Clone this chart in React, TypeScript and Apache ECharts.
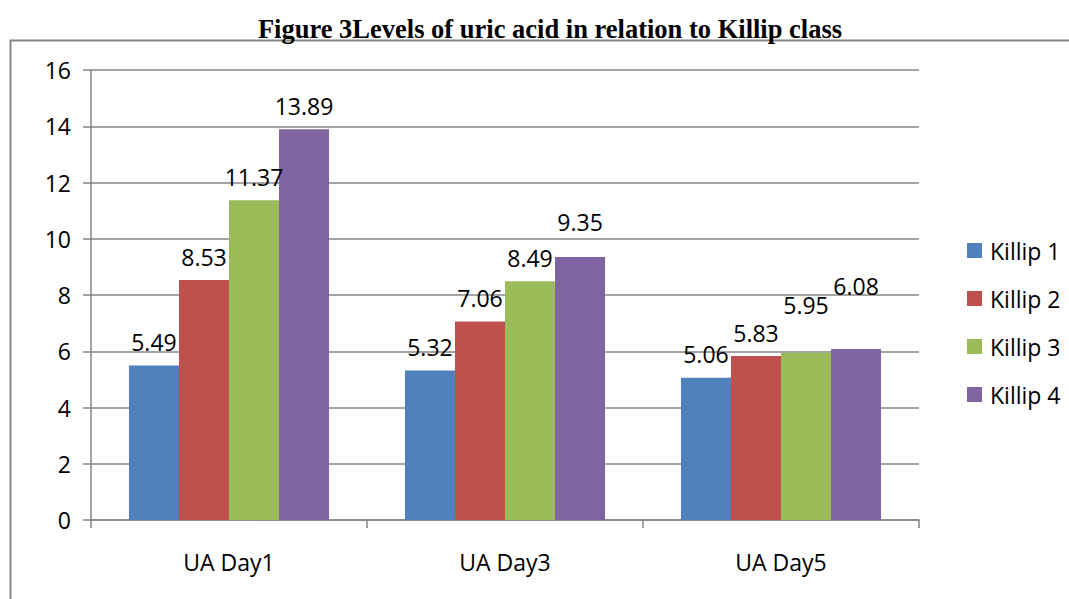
import React, { useEffect, useRef } from "react";
import * as echarts from "echarts";

const categories = ["UA Day1", "UA Day3", "UA Day5"];
const seriesNames = ["Killip 1", "Killip 2", "Killip 3", "Killip 4"];
const killip1 = [5.49, 5.32, 5.06];
const killip2 = [8.53, 7.06, 5.83];
const killip3 = [11.37, 8.49, 5.95];
const killip4 = [13.89, 9.35, 6.08];
const yTicks = { min: 0, max: 16, interval: 2 };
const titleText = "Figure 3Levels of uric acid in relation to Killip class";

const colors = ["#4F81BD", "#C0504D", "#9BBB59", "#8064A2"];
// extra vertical label offsets (px) to mimic the original label placement
const labelShift = [
  [0, 0, 0],
  [0, 0, 0],
  [0, 0, -24],
  [0, -12, -40],
];

export default function App() {
  const ref = useRef<HTMLDivElement>(null);
  useEffect(() => {
    if (!ref.current) return;
    const chart = echarts.init(ref.current, null, { renderer: "svg" });
    const all = [killip1, killip2, killip3, killip4];
    const font = "'Open Sans', sans-serif";
    chart.setOption({
      animation: false,
      backgroundColor: "#ffffff",
      title: {
        text: titleText,
        left: 545,
        textAlign: "center",
        top: 10,
        textStyle: {
          fontFamily: "'Liberation Serif', 'Times New Roman', serif",
          fontWeight: "bold",
          fontSize: 26.5,
          color: "#000",
        },
      },
      graphic: [
        {
          type: "polyline",
          shape: { points: [[10.5, 600], [10.5, 40.5], [1070, 40.5]] },
          style: { stroke: "#868686", lineWidth: 2, fill: "none" },
          silent: true,
        },
      ],
      legend: {
        orient: "vertical",
        left: 962,
        top: 234,
        itemWidth: 15,
        itemHeight: 15,
        itemGap: 25,
        icon: "rect",
        data: seriesNames,
        textStyle: { fontFamily: font, fontSize: 23, color: "#000", padding: [0, 0, 0, 3] },
      },
      grid: { left: 91, right: 150, top: 70, bottom: 79, containLabel: false },
      xAxis: {
        type: "category",
        data: categories,
        axisLine: { show: true, lineStyle: { color: "#868686", width: 1.5 } },
        axisTick: { show: true, length: 8, lineStyle: { color: "#868686", width: 1.5 } },
        axisLabel: { fontFamily: font, fontSize: 23, color: "#000", margin: 30 },
      },
      yAxis: {
        type: "value",
        min: yTicks.min,
        max: yTicks.max,
        interval: yTicks.interval,
        axisLine: { show: true, lineStyle: { color: "#868686", width: 1.5 } },
        axisTick: { show: true, length: 8, lineStyle: { color: "#868686", width: 1.5 } },
        splitLine: { show: true, lineStyle: { color: "#868686", width: 1.5 } },
        axisLabel: { fontFamily: font, fontSize: 23, color: "#000", margin: 20 },
      },
      series: seriesNames.map((name, si) => ({
        name,
        type: "bar",
        barGap: "0%",
        barCategoryGap: "27.5%",
        itemStyle: { color: colors[si] },
        label: {
          show: true,
          position: "top",
          distance: 12,
          fontFamily: font,
          fontSize: 23,
          color: "#000",
        },
        data: all[si].map((v, ci) => ({
          value: v,
          label: { offset: [0, labelShift[si][ci]] },
        })),
      })),
    });
    return () => chart.dispose();
  }, []);
  return (
    <div
      ref={ref}
      style={{ position: "fixed", left: 0, top: 0, width: 1069, height: 599 }}
    />
  );
}
